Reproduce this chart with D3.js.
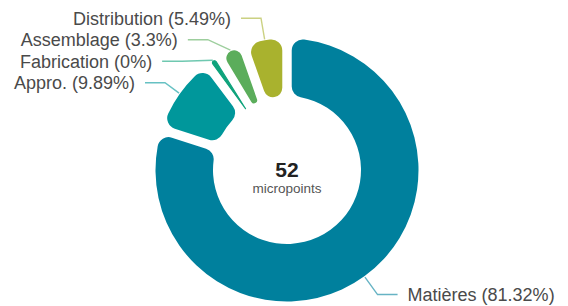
<!DOCTYPE html>
<html><head><meta charset="utf-8">
<script src="https://cdn.jsdelivr.net/npm/d3@7"></script>
<style>html,body{margin:0;padding:0;background:#fff;} svg{display:block}</style>
</head><body><svg id="chart" width="568" height="306"></svg>
<script>
const categories = ["Matières", "Appro.", "Fabrication", "Assemblage", "Distribution"];
const values = [81.32, 9.89, 0, 3.3, 5.49];
const percentLabels = ["81.32%", "9.89%", "0%", "3.3%", "5.49%"];
const colors = ["#00809d", "#00979b", "#0fa37c", "#5bad5b", "#a9b22e"];
const totalLabel = "52";
const unitLabel = "micropoints";

const cx = 287, cy = 170, outerR = 131.5, innerR = 74;
const minAngle = 0.103, padAngle = 0.063, padRadius = 150;
const elbowR = 154, ellA = 148, ellB = 154.2;
const svg = d3.select("#chart");

const zeroCount = values.filter(v => v === 0).length;
const angle = d3.scaleLinear().domain([0, d3.sum(values)]).range([0, 2 * Math.PI - minAngle * zeroCount]);
let acc = 0;
const slices = values.map((v, i) => {
  const span = v === 0 ? minAngle : angle(v);
  const s = { i, value: v, startAngle: acc, endAngle: acc + span };
  acc += span;
  s.mid = (s.startAngle + s.endAngle) / 2;
  return s;
});

const arc = d3.arc().innerRadius(innerR).outerRadius(outerR).cornerRadius(11).padAngle(padAngle).padRadius(padRadius);
const g = svg.append("g").attr("transform", `translate(${cx},${cy})`);
g.selectAll("path.slice").data(slices).join("path").attr("class", "slice")
  .attr("d", arc).attr("fill", d => colors[d.i])
  .attr("stroke", d => d.value === 0 ? colors[d.i] : "none")
  .attr("stroke-width", d => d.value === 0 ? 1.2 : 0)
  .attr("stroke-linejoin", "round");

// label layout
slices.forEach(s => {
  s.left = Math.sin(s.mid) < 0;
  s.p0 = [Math.sin(s.mid) * (outerR + 1), -Math.cos(s.mid) * (outerR + 1)];
  s.ly0 = -Math.cos(s.mid) * elbowR;
  s.ly = s.ly0;
});
const spacing = 21.5;
[true, false].forEach(side => {
  const grp = slices.filter(s => s.left === side).sort((a, b) => a.ly - b.ly);
  for (let k = 1; k < grp.length; k++) {
    if (grp[k].ly < grp[k - 1].ly + spacing) grp[k].ly = grp[k - 1].ly + spacing;
  }
});
slices.forEach(s => {
  const sign = s.left ? -1 : 1;
  let dx;
  if (s.ly === s.ly0) {
    dx = Math.abs(Math.sin(s.mid) * elbowR);
  } else {
    const t = Math.min(1, (s.ly * s.ly) / (ellB * ellB));
    dx = ellA * Math.sqrt(1 - t);
  }
  s.p1 = [sign * dx, s.ly];
  s.p2 = [sign * (dx + 20), s.ly];
  s.tx = sign * (dx + 30);
});

g.selectAll("path.lead").data(slices).join("path").attr("class", "lead")
  .attr("d", s => d3.line()([s.p0, s.p1, s.p2]))
  .attr("fill", "none").attr("stroke", d => colors[d.i]).attr("stroke-opacity", 0.6).attr("stroke-width", 1.4);

g.selectAll("text.lab").data(slices).join("text").attr("class", "lab")
  .attr("x", s => s.tx).attr("y", s => s.ly).attr("dy", "0.35em")
  .attr("text-anchor", s => s.left ? "end" : "start")
  .attr("font-family", "'Liberation Sans', Arial, sans-serif").attr("font-size", 18)
  .attr("fill", "#4a4a4a")
  .text(s => `${categories[s.i]} (${percentLabels[s.i]})`);

g.append("text").attr("x", 0).attr("y", 7).attr("text-anchor", "middle")
  .attr("font-family", "'Liberation Sans', Arial, sans-serif").attr("font-size", 21).attr("font-weight", "bold")
  .attr("fill", "#222").text(totalLabel);
g.append("text").attr("x", 0).attr("y", 22.5).attr("text-anchor", "middle")
  .attr("font-family", "'Liberation Sans', Arial, sans-serif").attr("font-size", 13.5)
  .attr("fill", "#555").text(unitLabel);
</script></body></html>
